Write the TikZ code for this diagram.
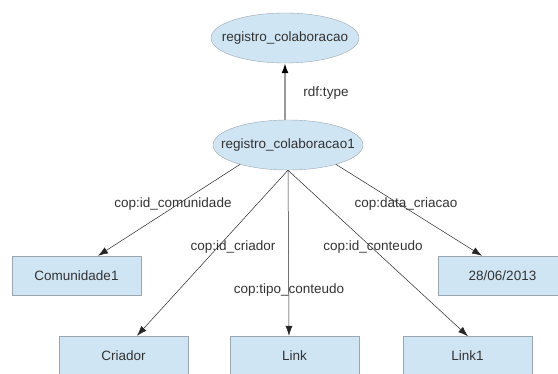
\documentclass[tikz,border=0pt]{standalone}
\usepackage{fontspec}
\setmainfont{Liberation Sans}
\usetikzlibrary{shapes.geometric,arrows.meta}
\definecolor{nodefill}{HTML}{CFE5F3}
\definecolor{nodeline}{HTML}{9AA6B0}
\definecolor{txt}{HTML}{333333}
\tikzset{
  res/.style={ellipse,draw=nodeline,fill=nodefill,inner sep=0pt,minimum width=148pt,minimum height=50pt},
  lit/.style={rectangle,draw=nodeline,fill=nodefill,inner sep=0pt,minimum width=129pt,minimum height=39pt,text=txt,font=\fontsize{13.5}{16}\selectfont},
  lbl/.style={text=txt,inner sep=1pt,font=\fontsize{13.5}{16}\selectfont},
  rel/.style={draw=black!85,line width=0.5pt,-{Latex[length=10pt,width=7pt]}},
  typ/.style={draw=black!40,line width=1.5pt,-{Latex[length=10pt,width=7pt,color=black]}}
}
\begin{document}
\begin{tikzpicture}[x=1pt,y=-1pt]
\useasboundingbox (0,0) rectangle (558,374);
\begin{scope}
\clip (0,0) rectangle (558,374);
\node[res,label={[lbl]center:registro\_colaboracao}] (cls) at (285,38) {};
\node[res,minimum width=150pt,label={[lbl]center:registro\_colaboracao1}] (inst) at (288,145) {};
\node[lit] (com) at (76.5,275.5) {Comunidade1};
\node[lit] (dat) at (502.5,275.5) {28/06/2013};
\node[lit] (cri) at (123.5,355.5) {Criador};
\node[lit] (lnk) at (294.5,355.5) {Link};
\node[lit] (lk1) at (467.5,356) {Link1};

\draw[typ] ([xshift=-3pt]inst.north) -- (cls.south);
\draw[rel] (inst.202) -- ([xshift=21.5pt]com.north);
\draw[rel] (inst.south) -- ([xshift=13.5pt]cri.north);
\draw[rel] (inst.south) -- ([xshift=-5.5pt]lnk.north);
\draw[rel] (inst.south) -- ([xshift=0.5pt]lk1.north);
\draw[rel] (inst.-22) -- ([xshift=-20.5pt]dat.north);

\node[lbl] (l0) at (326,93) {rdf:type};
\node[lbl] (l1) at (173,204) {cop:id\_comunidade};
\node[lbl] (l2) at (233,247) {cop:id\_criador};
\node[lbl] (l3) at (289,290) {cop:tipo\_conteudo};
\node[lbl] (l4) at (373,247) {cop:id\_conteudo};
\node[lbl] (l5) at (406,204) {cop:data\_criacao};
\end{scope}
\end{tikzpicture}
\end{document}
